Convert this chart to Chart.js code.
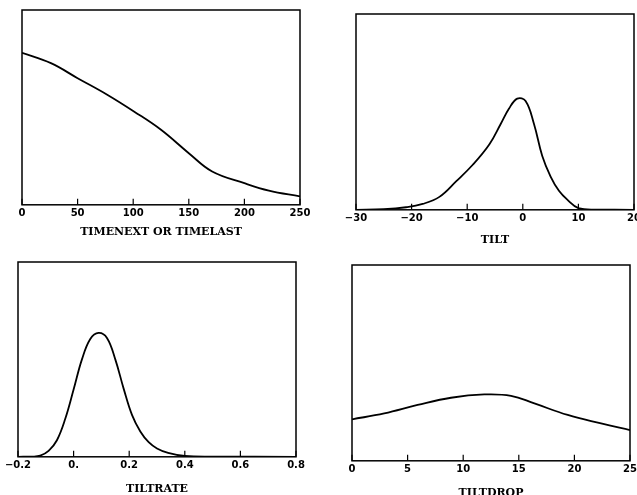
<!DOCTYPE html>
<html>
<head>
<meta charset="utf-8">
<script src="https://cdn.jsdelivr.net/npm/chart.js@4.4.1/dist/chart.umd.min.js"></script>
<style>
  body { margin: 0; background: #fff; width: 637px; height: 495px; position: relative; overflow: hidden; }
  canvas { position: absolute; }
</style>
</head>
<body>
<canvas id="c1"></canvas>
<canvas id="c2"></canvas>
<canvas id="c3"></canvas>
<canvas id="c4"></canvas>
<script>
// density curves, y is height as fraction of the panel
const timeX = [0, 26, 50, 77, 101, 125, 150, 171, 200, 222, 250]
const timeY = [0.78, 0.727, 0.65, 0.564, 0.478, 0.385, 0.265, 0.171, 0.111, 0.073, 0.043]

const tiltX = [-30, -25, -21, -18, -15, -12, -9, -6, -4, -2.5, -1, 0.5, 2, 3.5, 5, 6.5, 8, 10, 13, 20]
const tiltY = [0, 0.003, 0.013, 0.03, 0.066, 0.145, 0.23, 0.335, 0.437, 0.516, 0.568, 0.556, 0.44, 0.275, 0.17, 0.097, 0.052, 0.009, 0.001, 0]

const rateX = [-0.2, -0.15, -0.12, -0.09, -0.06, -0.03, 0, 0.03, 0.06, 0.09, 0.12, 0.15, 0.18, 0.21, 0.24, 0.27, 0.30, 0.34, 0.40, 0.5, 0.8]
const rateY = [0, 0.001, 0.006, 0.03, 0.085, 0.195, 0.345, 0.5, 0.605, 0.636, 0.61, 0.5, 0.35, 0.215, 0.13, 0.075, 0.043, 0.02, 0.004, 0.001, 0]

const dropX = [0, 2.9, 5.9, 8.9, 11.9, 14.3, 16.4, 19.4, 22.4, 25]
const dropY = [0.212, 0.242, 0.285, 0.322, 0.339, 0.332, 0.293, 0.234, 0.191, 0.157]

const timeTicks = [0, 50, 100, 150, 200, 250]
const tiltTicks = [-30, -20, -10, 0, 10, 20]
const rateTicks = [-0.2, 0, 0.2, 0.4, 0.6, 0.8]
const dropTicks = [0, 5, 10, 15, 20, 25]

const rateLabels = ['\u22120.2', '0.', '0.2', '0.4', '0.6', '0.8']

// box round the plot and little ticks pointing inwards
const boxPlugin = {
    id: 'box',
    afterDraw(chart) {
        let a = chart.chartArea
        let ctx = chart.ctx
        let sx = chart.scales.x
        ctx.save()
        ctx.strokeStyle = '#000'
        ctx.lineWidth = 1.5
        ctx.strokeRect(a.left, a.top, a.right - a.left, a.bottom - a.top)
        ctx.lineWidth = 1.2
        for (let t of sx.ticks) {
            let px = sx.getPixelForValue(t.value)
            ctx.beginPath()
            ctx.moveTo(px, a.bottom)
            ctx.lineTo(px, a.bottom - 6)
            ctx.stroke()
        }
        ctx.restore()
    }
}

function makePanel(id, area, xs, ys, ticks, labels, title, titlePad) {
    let padL = 20, padR = 20, padT = 5
    let canvas = document.getElementById(id)
    let w = area.right - area.left + padL + padR
    let h = area.bottom - area.top + padT + 40
    canvas.width = w
    canvas.height = h
    canvas.style.left = (area.left - padL) + 'px'
    canvas.style.top = (area.top - padT) + 'px'

    let pts = xs.map((x, i) => ({x: x, y: ys[i]}))
    new Chart(canvas.getContext('2d'), {
        type: 'line',
        data: {
            datasets: [{
                data: pts,
                borderColor: '#000',
                borderWidth: 1.8,
                pointRadius: 0,
                tension: 0.4,
                fill: false
            }]
        },
        options: {
            responsive: false,
            animation: false,
            events: [],
            layout: {padding: {left: padL, right: padR, top: padT, bottom: 40 - 35 - (titlePad - 4)}},
            plugins: {legend: {display: false}, tooltip: {enabled: false}},
            scales: {
                x: {
                    type: 'linear',
                    min: ticks[0],
                    max: ticks[ticks.length - 1],
                    afterBuildTicks: (s) => { s.ticks = ticks.map(v => ({value: v})) },
                    grid: {display: false, drawTicks: false},
                    border: {display: false},
                    ticks: {
                        color: '#000',
                        padding: 3,
                        maxRotation: 0,
                        autoSkip: false,
                        font: {family: 'DejaVu Sans', weight: 'bold', size: 10},
                        callback: (v, i) => labels ? labels[i] : String(v).replace('-', '\u2212')
                    },
                    title: {
                        display: true,
                        text: title,
                        color: '#000',
                        padding: {top: titlePad, bottom: 0},
                        font: {family: 'DejaVu Serif', weight: 'bold', size: 11}
                    }
                },
                y: {display: false, min: 0, max: 1}
            }
        },
        plugins: [boxPlugin]
    })
}

makePanel('c1', {left: 22, right: 300, top: 10, bottom: 205}, timeX, timeY, timeTicks, null, 'TIMENEXT OR TIMELAST', 3)
makePanel('c2', {left: 356, right: 634, top: 14, bottom: 210}, tiltX, tiltY, tiltTicks, null, 'TILT', 6)
makePanel('c3', {left: 18, right: 296, top: 262, bottom: 457}, rateX, rateY, rateTicks, rateLabels, 'TILTRATE', 8)
makePanel('c4', {left: 352, right: 630, top: 265, bottom: 461}, dropX, dropY, dropTicks, null, 'TILTDROP', 8)
</script>
</body>
</html>
